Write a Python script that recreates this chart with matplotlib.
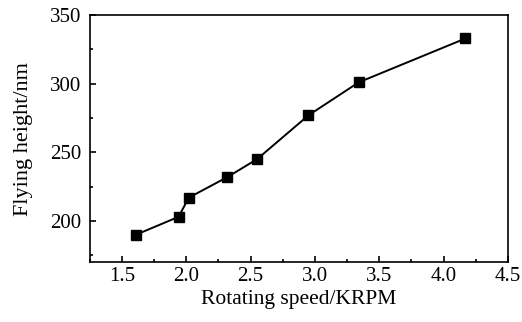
import matplotlib
matplotlib.use('Agg')
import matplotlib.pyplot as plt
from matplotlib.ticker import MultipleLocator

# values
speed = [1.61, 1.94, 2.02, 2.32, 2.55, 2.95, 3.34, 4.17]
height = [190, 203, 217, 232, 245, 277, 301, 333]

x_ticks = [1.5, 2.0, 2.5, 3.0, 3.5, 4.0, 4.5]
y_ticks = [200, 250, 300, 350]

plt.rcParams['font.family'] = 'Liberation Serif'

fig = plt.figure(figsize=(5.22, 3.22), dpi=100)
ax = fig.add_axes([0.172, 0.186, 0.801, 0.767])

ax.plot(speed, height, color='black', lw=1.4, marker='s', ms=7,
        markerfacecolor='black', markeredgecolor='black')

ax.set_xlim(1.25, 4.5)
ax.set_ylim(170, 350)
ax.set_xticks(x_ticks)
ax.set_xticklabels([f'{t:.1f}' for t in x_ticks])
ax.set_yticks(y_ticks)
ax.xaxis.set_minor_locator(MultipleLocator(0.25))
ax.yaxis.set_minor_locator(MultipleLocator(25))
ax.tick_params(which='both', direction='in', labelsize=15, width=1.2)
ax.tick_params(which='major', length=4)
ax.tick_params(which='minor', length=2)
ax.tick_params(axis='y', pad=6)
for s in ax.spines.values():
    s.set_linewidth(1.2)

ax.set_xlabel('Rotating speed/KRPM', fontsize=15.5, labelpad=3)
ax.set_ylabel('Flying height/nm', fontsize=16, labelpad=12)

fig.savefig('out.png', dpi=100)
